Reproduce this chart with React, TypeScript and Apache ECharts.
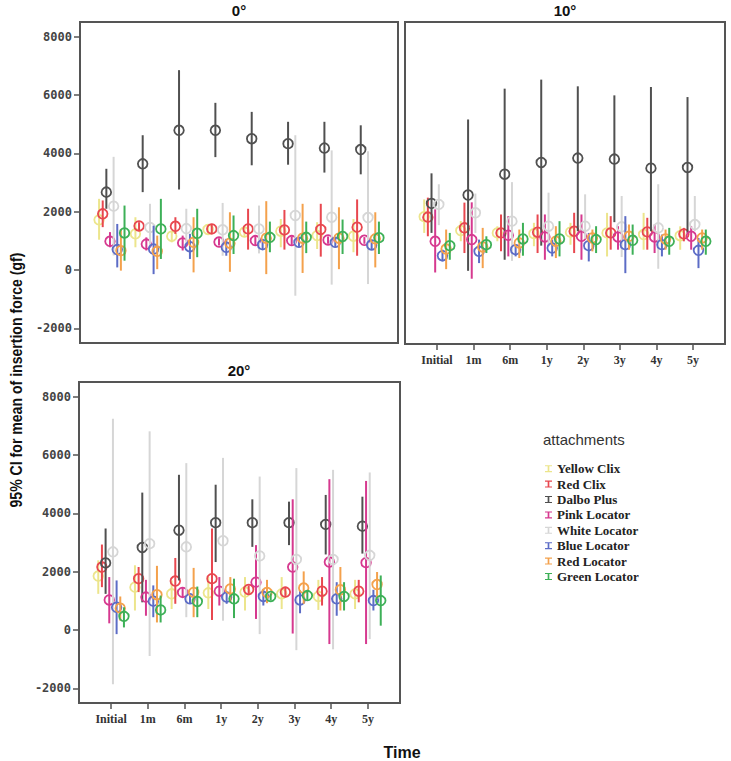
import React, { useEffect, useRef } from "react";
import * as echarts from "echarts";

const timeLabels = ["Initial", "1m", "6m", "1y", "2y", "3y", "4y", "5y"];
const attachments = [
  "Yellow Clix",
  "Red Clix",
  "Dalbo Plus",
  "Pink Locator",
  "White Locator",
  "Blue Locator",
  "Red Locator",
  "Green Locator",
];
const panelTitles = ["0°", "10°", "20°"];
const yTicks = [-2000, 0, 2000, 4000, 6000, 8000];

// [mean, lower, upper] per time point
// 0°
const deg0YellowClix = [[1720, 1040, 2440], [1240, 780, 1810], [1160, 950, 1350], [1390, 1240, 1560], [1300, 1160, 1440], [1330, 780, 1750], [1180, 720, 1640], [1160, 610, 1750]];
const deg0RedClix = [[1925, 1470, 2385], [1510, 1350, 1640], [1500, 1240, 1810], [1410, 1240, 1580], [1410, 700, 2100], [1375, 700, 2060], [1390, 460, 2270], [1470, 490, 2420]];
const deg0DalboPlus = [[2670, 2100, 3470], [3640, 2670, 4620], [4790, 2760, 6850], [4790, 3870, 5730], [4500, 3590, 5420], [4330, 3610, 5080], [4180, 3340, 5080], [4130, 3280, 4960]];
const deg0PinkLocator = [[985, 780, 1300], [890, 670, 1120], [930, 670, 1180], [960, 840, 1090], [1010, 840, 1180], [1010, 860, 1150], [1030, 900, 1150], [1020, 900, 1130]];
const deg0WhiteLocator = [[2190, 500, 3880], [1460, 780, 2270], [1420, 890, 2100], [1380, 490, 2300], [1410, 570, 2210], [1870, -880, 4620], [1810, -500, 4100], [1800, -480, 4070]];
const deg0BlueLocator = [[700, 90, 1580], [720, -140, 1520], [800, 380, 1240], [780, 490, 1070], [870, 720, 1070], [950, 780, 1120], [950, 780, 1120], [860, 720, 1030]];
const deg0RedLocator = [[665, -20, 1410], [640, 30, 1180], [950, -80, 1810], [920, -60, 1980], [1090, -140, 2360], [1090, -100, 2270], [1090, 30, 2150], [1070, 90, 1980]];
const deg0GreenLocator = [[1270, 320, 2210], [1410, 380, 2440], [1260, 440, 2100], [1180, 550, 1870], [1120, 610, 1660], [1120, 580, 1660], [1150, 550, 1730], [1110, 550, 1660]];

// 10°
const deg10YellowClix = [[1850, 1295, 2440], [1375, 1010, 1700], [1295, 1010, 1520], [1270, 840, 1640], [1320, 890, 1640], [1295, 490, 1980], [1240, 720, 1980], [1200, 720, 1520]];
const deg10RedClix = [[1834, 1180, 2500], [1467, 607, 2330], [1295, 665, 1925], [1318, 607, 1925], [1352, 607, 1983], [1295, 722, 1868], [1329, 722, 1811], [1261, 1008, 1467]];
const deg10DalboPlus = [[2303, 1295, 3330], [2590, 0, 5170], [3300, 378, 6223], [3702, 860, 6532], [3850, 1350, 6303], [3816, 1662, 5994], [3507, 1352, 6280], [3530, 1295, 5936]];
const deg10PinkLocator = [[1008, -57, 2100], [1066, -270, 2340], [1215, 493, 1868], [1157, 378, 1925], [1180, 378, 1925], [1157, 722, 1524], [1157, 607, 1581], [1180, 722, 1524]];
const deg10WhiteLocator = [[2269, 1560, 2957], [1983, 1295, 2640], [1696, 340, 3030], [1524, 837, 2670], [1524, 1100, 2613], [1501, 470, 2555], [1467, 70, 2957], [1581, 1352, 2555]];
const deg10BlueLocator = [[516, 321, 722], [665, 264, 1066], [722, 493, 894], [779, 493, 1066], [859, 321, 1295], [894, -80, 1868], [894, 493, 1238], [699, 92, 1123]];
const deg10RedLocator = [[745, 57, 1410], [814, 92, 1467], [951, 436, 1410], [1008, 436, 1524], [1123, 665, 1410], [1180, 722, 1581], [1089, 722, 1410], [1123, 722, 1410]];
const deg10GreenLocator = [[859, 378, 1295], [894, 607, 1180], [1089, 516, 1639], [1089, 493, 1696], [1066, 607, 1524], [1043, 550, 1581], [1008, 550, 1467], [1008, 550, 1410]];

// 20°
const deg20YellowClix = [[1850, 1240, 2390], [1470, 670, 2220], [1240, 720, 1700], [1275, 720, 1815], [1300, 670, 1815], [1240, 720, 1815], [1150, 690, 1720], [1240, 720, 1720]];
const deg20RedClix = [[2160, 1470, 2930], [1760, 1300, 2160], [1680, 900, 2470], [1760, 345, 3480], [1390, 1240, 1530], [1300, 1130, 1470], [1330, 840, 1815], [1330, 950, 1720]];
const deg20DalboPlus = [[2300, 1240, 3480], [2830, 950, 4710], [3420, 1700, 5320], [3680, 2330, 4980], [3680, 2850, 4480], [3680, 2910, 4400], [3620, 2590, 4630], [3560, 2620, 4570]];
const deg20PinkLocator = [[1030, 230, 1815], [1130, 490, 1720], [1290, 1130, 1470], [1330, 840, 1815], [1640, 380, 2910], [2160, -120, 4480], [2330, -480, 5170], [2310, -480, 5110]];
const deg20WhiteLocator = [[2680, -1860, 7240], [2960, -890, 6810], [2850, 440, 5720], [3060, 320, 5900], [2540, -140, 5260], [2420, -690, 5550], [2420, -660, 5490], [2560, -310, 5400]];
const deg20BlueLocator = [[780, -140, 1700], [990, 440, 1530], [1070, 920, 1240], [1130, 900, 1300], [1150, 840, 1410], [1030, 575, 1360], [1070, 490, 1640], [1010, 670, 1380]];
const deg20RedLocator = [[750, 320, 1150], [1210, 260, 2200], [1290, 440, 2130], [1410, 950, 1815], [1290, 920, 1720], [1440, 900, 2010], [1380, 670, 2160], [1560, 1070, 1990]];
const deg20GreenLocator = [[470, 90, 780], [690, 260, 1180], [980, 440, 1490], [1070, 410, 1760], [1150, 1010, 1260], [1180, 1010, 1360], [1150, 670, 1640], [1010, 150, 1870]];

const panels = [
  [deg0YellowClix, deg0RedClix, deg0DalboPlus, deg0PinkLocator, deg0WhiteLocator, deg0BlueLocator, deg0RedLocator, deg0GreenLocator],
  [deg10YellowClix, deg10RedClix, deg10DalboPlus, deg10PinkLocator, deg10WhiteLocator, deg10BlueLocator, deg10RedLocator, deg10GreenLocator],
  [deg20YellowClix, deg20RedClix, deg20DalboPlus, deg20PinkLocator, deg20WhiteLocator, deg20BlueLocator, deg20RedLocator, deg20GreenLocator],
];

const colors = ["#ece58c", "#e8474f", "#505050", "#d6398f", "#d6d6d6", "#5c6cc6", "#f4a14c", "#3db057"];

const grids = [
  { left: 80, top: 22, width: 318, height: 321 },
  { left: 405, top: 22, width: 320, height: 322 },
  { left: 79, top: 382, width: 321, height: 321 },
];

export default function App() {
  const ref = useRef<HTMLDivElement>(null);

  useEffect(() => {
    if (!ref.current) return;
    const chart = echarts.init(ref.current, null, { renderer: "svg" });
    const tickIdx = timeLabels.map((_, i) => i);

    const xAxes = grids.map((_, gi) => {
      const showX = gi !== 0;
      return {
        type: "value",
        gridIndex: gi,
        position: "bottom",
        min: -0.875,
        max: 7.875,
        axisLine: { show: false, onZero: false },
        splitLine: { show: false },
        axisTick: {
          show: showX,
          customValues: tickIdx,
          length: 6,
          lineStyle: { color: "#555", width: 1.5 },
        },
        axisLabel: {
          show: showX,
          customValues: tickIdx,
          margin: 10,
          formatter: (v: number) => timeLabels[Math.round(v)] ?? "",
          fontFamily: "Liberation Serif",
          fontWeight: "bold",
          fontSize: 12,
          color: "#333",
        },
      };
    });

    const yAxes = grids.map((_, gi) => {
      const showY = gi !== 1;
      return {
        type: "value",
        gridIndex: gi,
        position: "left",
        min: -2500,
        max: 8500,
        axisLine: { show: false, onZero: false },
        splitLine: { show: false },
        axisTick: {
          show: showY,
          customValues: yTicks,
          length: 6,
          lineStyle: { color: "#555", width: 1.5 },
        },
        axisLabel: {
          show: showY,
          customValues: yTicks,
          margin: 8,
          formatter: (v: number) => String(v),
          fontFamily: "DejaVu Sans Mono",
          fontWeight: "bold",
          fontSize: 12,
          color: "#444",
        },
      };
    });

    const series: any[] = [];
    panels.forEach((panel, pi) => {
      panel.forEach((rows, ai) => {
        const color = colors[ai];
        series.push({
          type: "custom",
          name: attachments[ai],
          xAxisIndex: pi,
          yAxisIndex: pi,
          itemStyle: { color },
          encode: { x: 0, y: [1, 2, 3] },
          data: rows.map((r, ti) => [ti + (ai - 3.5) * 0.1, r[1], r[2], r[0]]),
          renderItem: (params: any, api: any) => {
            const x = api.value(0);
            const lo = api.coord([x, api.value(1)]);
            const hi = api.coord([x, api.value(2)]);
            const m = api.coord([x, api.value(3)]);
            return {
              type: "group",
              children: [
                {
                  type: "line",
                  shape: { x1: lo[0], y1: lo[1], x2: hi[0], y2: hi[1] },
                  style: { stroke: color, lineWidth: 2 },
                },
                {
                  type: "circle",
                  shape: { cx: m[0], cy: m[1], r: 4.8 },
                  style: { fill: "none", stroke: color, lineWidth: 1.8 },
                },
              ],
            };
          },
        });
      });
    });

    const iconPath =
      "path://M0,0L10,0L10,1.6L6.2,1.6L6.2,8.4L10,8.4L10,10L0,10L0,8.4L3.8,8.4L3.8,1.6L0,1.6Z";

    chart.setOption({
      animation: false,
      backgroundColor: "#ffffff",
      grid: grids.map((g) => ({
        ...g,
        show: true,
        borderColor: "#555",
        borderWidth: 2,
        backgroundColor: "#ffffff",
        containLabel: false,
      })),
      xAxis: xAxes,
      yAxis: yAxes,
      legend: {
        orient: "vertical",
        left: 540,
        top: 456,
        itemWidth: 7,
        itemHeight: 11,
        itemGap: 0,
        data: attachments.map((name) => ({ name, icon: iconPath })),
        textStyle: {
          fontFamily: "Liberation Serif",
          fontWeight: "bold",
          fontSize: 13,
          lineHeight: 15.4,
          color: "#222",
        },
        selectedMode: false,
      },
      graphic: [
        {
          type: "text",
          x: 239,
          y: 10,
          style: { text: panelTitles[0], font: "bold 15px 'Liberation Sans'", fill: "#111", align: "center", verticalAlign: "middle" },
        },
        {
          type: "text",
          x: 565,
          y: 10,
          style: { text: panelTitles[1], font: "bold 15px 'Liberation Sans'", fill: "#111", align: "center", verticalAlign: "middle" },
        },
        {
          type: "text",
          x: 239,
          y: 370,
          style: { text: panelTitles[2], font: "bold 15px 'Liberation Sans'", fill: "#111", align: "center", verticalAlign: "middle" },
        },
        {
          type: "text",
          x: 16,
          y: 380,
          rotation: Math.PI / 2,
          scaleX: 0.88,
          style: {
            text: "95% CI for mean of insertion force (gf)",
            font: "bold 16px 'Liberation Sans'",
            fill: "#111",
            align: "center",
            verticalAlign: "middle",
          },
        },
        {
          type: "text",
          x: 402,
          y: 752,
          style: { text: "Time", font: "bold 16px 'Liberation Sans'", fill: "#111", align: "center", verticalAlign: "middle" },
        },
        {
          type: "text",
          x: 543,
          y: 439,
          style: { text: "attachments", font: "15px 'Liberation Sans'", fill: "#333", align: "left", verticalAlign: "middle" },
        },
      ],
      series,
    });

    return () => chart.dispose();
  }, []);

  return (
    <div
      ref={ref}
      style={{ position: "absolute", left: 0, top: 0, width: 731, height: 761, background: "#fff" }}
    />
  );
}
